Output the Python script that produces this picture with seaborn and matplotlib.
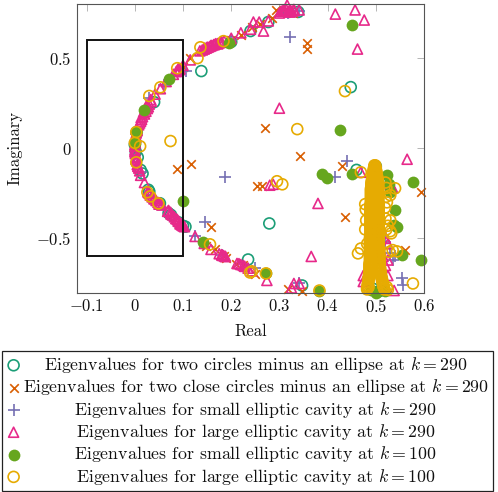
import matplotlib
matplotlib.use("Agg")
import matplotlib.pyplot as plt
import seaborn as sns
from matplotlib.patches import Rectangle

teal_x = [0.0, 0.004, 0.006, 0.012, 0.04, 0.03, 0.05, 0.07, 0.09, 0.1, 0.138, 0.2, 0.24, 0.277, 0.339, 0.448, 0.279,
          0.002, 0.016, 0.028, 0.052, 0.075, 0.105, 0.235, 0.347, 0.5, 0.495, 0.505, 0.46]
teal_y = [0.02, 0.09, -0.05, -0.12, 0.256, -0.24, -0.31, -0.36, -0.41, -0.43, 0.428, 0.59, 0.65, 0.70, 0.756, 0.339, -0.417,
          -0.02, -0.14, -0.23, -0.305, -0.37, -0.435, -0.617, -0.761, -0.1, -0.78, -0.795, -0.12]

orange_x = [0.1, 0.115, 0.088, 0.117, 0.159, 0.19, 0.21, 0.225, 0.185, 0.2, 0.254, 0.264, 0.243, 0.27, 0.293, 0.306, 0.329,
            0.358, 0.358, 0.343, 0.43, 0.436, 0.594, 0.561, 0.318, 0.347, 0.26, 0.25, 0.148, 0.167, 0.22, 0.285, 0.5, 0.51]
orange_y = [0.45, 0.5, -0.117, -0.089, -0.439, -0.61, -0.64, -0.65, -0.595, 0.6, -0.211, -0.211, 0.67, 0.111, 0.767, 0.756, 0.75,
            0.583, 0.55, -0.044, -0.1, -0.383, -0.244, -0.567, -0.778, -0.789, 0.69, -0.7, -0.54, -0.56, 0.63, 0.72, -0.5, -0.62]

purple_x = [0.107, 0.003, 0.012, 0.188, 0.146, 0.125, 0.18, 0.25, 0.318, 0.341, 0.322, 0.441, 0.416, 0.536, 0.554, 0.557, 0.341,
            0.03, 0.06, 0.094, 0.2, 0.515, 0.52, 0.53, 0.54, 0.505]
purple_y = [0.428, 0.08, -0.13, -0.161, -0.411, -0.489, -0.59, -0.665, 0.75, 0.76, 0.617, -0.072, -0.161, -0.622, -0.717, -0.761, -0.75,
            0.28, 0.35, -0.42, 0.6, -0.48, -0.52, -0.58, -0.6, -0.45]

pink_x = [0.0, 0.002, 0.005, 0.008, 0.013, 0.018, 0.022, 0.025, 0.033, 0.042, 0.053, 0.065, 0.08, 0.09, 0.1, 0.115,
          0.135, 0.145, 0.15, 0.158, 0.165, 0.172, 0.178, 0.185, 0.2, 0.22, 0.24, 0.246, 0.258, 0.267, 0.277, 0.3, 0.308, 0.316, 0.322, 0.33, 0.341,
          0.416, 0.457, 0.476, 0.462, 0.30,
          0.0, 0.002, 0.006, 0.012, 0.02, 0.027, 0.03, 0.04, 0.05, 0.068, 0.075, 0.085, 0.09, 0.094, 0.097, 0.1,
          0.125, 0.144, 0.158, 0.175, 0.181, 0.187, 0.212, 0.225, 0.235, 0.243, 0.274, 0.33, 0.341, 0.325,
          0.469, 0.565, 0.38, 0.287, 0.28, 0.366, 0.538, 0.474, 0.474, 0.525,
          0.51, 0.515, 0.52, 0.525, 0.51, 0.515, 0.52, 0.53, 0.535, 0.525]
pink_y = [0.02, 0.06, 0.1, 0.13, 0.17, 0.2, 0.22, 0.24, 0.27, 0.3, 0.33, 0.37, 0.41, 0.44, 0.46, 0.49,
          0.54, 0.555, 0.56, 0.57, 0.575, 0.58, 0.59, 0.595, 0.61, 0.64, 0.66, 0.70, 0.70, 0.65, 0.706, 0.75, 0.767, 0.794, 0.767, 0.77, 0.767,
          0.744, 0.767, 0.711, 0.55, 0.222,
          -0.02, -0.06, -0.1, -0.15, -0.19, -0.24, -0.25, -0.28, -0.31, -0.35, -0.365, -0.39, -0.405, -0.42, -0.425, -0.43,
          -0.489, -0.528, -0.561, -0.585, -0.594, -0.6, -0.639, -0.65, -0.665, -0.68, -0.733, -0.75, -0.75, -0.775,
          -0.133, -0.061, -0.306, -0.2, -0.205, -0.6, -0.789, -0.706, -0.739, -0.706,
          -0.44, -0.47, -0.5, -0.53, -0.56, -0.6, -0.65, -0.2, -0.22, -0.62]

# dense runs of the large-cavity eigenvalues along the arc
pink_dense_x = [0.0, 0.001, 0.001, 0.002, 0.003, 0.004, 0.01, 0.012, 0.014, 0.016, 0.02, 0.023, 0.026, 0.028, 0.03, 0.034,
                0.086, 0.088, 0.092, 0.094, 0.14, 0.144, 0.148, 0.152, 0.156, 0.16, 0.164, 0.168, 0.172, 0.176, 0.18,
                0.304, 0.31, 0.314, 0.318, 0.322, 0.326, 0.33,
                0.0, 0.001, 0.003, 0.004, 0.005, 0.008, 0.01, 0.028, 0.032, 0.036, 0.04, 0.044, 0.048, 0.052, 0.056,
                0.07, 0.074, 0.078, 0.082, 0.088, 0.091, 0.094, 0.097, 0.099, 0.101, 0.103, 0.18, 0.184, 0.188, 0.216, 0.22, 0.228]
pink_dense_y = [0.01, 0.03, 0.05, 0.07, 0.085, 0.095, 0.14, 0.15, 0.16, 0.175, 0.19, 0.205, 0.22, 0.23, 0.245, 0.26,
                0.425, 0.43, 0.435, 0.44, 0.545, 0.55, 0.555, 0.56, 0.565, 0.57, 0.575, 0.58, 0.58, 0.585, 0.59,
                0.76, 0.765, 0.77, 0.76, 0.755, 0.76, 0.765,
                -0.01, -0.03, -0.05, -0.07, -0.09, -0.11, -0.125, -0.245, -0.26, -0.27, -0.28, -0.29, -0.3, -0.305, -0.315,
                -0.345, -0.355, -0.37, -0.38, -0.395, -0.405, -0.415, -0.42, -0.425, -0.43, -0.435, -0.59, -0.595, -0.6, -0.64, -0.645, -0.655]

green_x = [0.0, 0.003, 0.018, 0.07, 0.196, 0.451, 0.426, 0.099, 0.142, 0.272, 0.383, 0.389, 0.399, 0.451, 0.577, 0.594, 0.554,
           0.544, 0.538, 0.54, 0.53, 0.527, 0.523, 0.49, 0.5, 0.51, 0.52, 0.5]
green_y = [0.03, 0.09, 0.21, 0.383, 0.583, 0.683, 0.10, -0.294, -0.522, -0.694, -0.789, -0.144, -0.167, -0.144, -0.189, -0.622, -0.594,
           -0.439, -0.425, -0.344, -0.24, -0.2, -0.15, -0.785, -0.795, -0.785, -0.79, -0.8]

yellow_x = [0.0, 0.003, 0.011, 0.074, 0.03, 0.053, 0.088, 0.13, 0.136, 0.184, 0.003, 0.026, 0.032, 0.049, 0.156, 0.239, 0.243, 0.272,
            0.383, 0.295, 0.306, 0.337, 0.436, 0.463, 0.469, 0.469, 0.54, 0.53, 0.53, 0.532, 0.544, 0.53, 0.577, 0.535, 0.528, 0.525, 0.523,
            0.52, 0.522, 0.521, 0.519, 0.52, 0.522, 0.478, 0.479, 0.48, 0.478, 0.482, 0.485, 0.525, 0.523]
yellow_y = [0.03, 0.09, 0.011, 0.04, 0.29, 0.338, 0.444, 0.5, 0.56, 0.594, -0.078, -0.244, -0.267, -0.306, -0.533, -0.689, -0.683, -0.694,
            -0.789, -0.183, -0.2, 0.106, 0.317, -0.583, -0.556, -0.133, -0.222, -0.26, -0.4, -0.472, -0.572, -0.46, -0.75, -0.565, -0.575, -0.43, -0.3,
            -0.19, -0.22, -0.27, -0.33, -0.39, -0.45, -0.31, -0.34, -0.4, -0.45, -0.53, -0.77, -0.785, -0.77]

# the tall cluster of k=100 eigenvalues near Re = 0.5
cluster_y = [-0.095, -0.103, -0.111, -0.119, -0.127, -0.135, -0.143, -0.151, -0.159, -0.167, -0.175, -0.183, -0.191, -0.199, -0.207,
             -0.215, -0.223, -0.231, -0.239, -0.247, -0.255, -0.263, -0.271, -0.279, -0.287, -0.295, -0.303, -0.311, -0.319, -0.327,
             -0.335, -0.343, -0.351, -0.359, -0.367, -0.375, -0.383, -0.391, -0.399, -0.407, -0.415, -0.423, -0.431, -0.439, -0.447,
             -0.455, -0.463, -0.471, -0.479, -0.487, -0.495, -0.503, -0.511, -0.519, -0.527, -0.535, -0.543, -0.551, -0.559, -0.567,
             -0.575, -0.583, -0.591, -0.599, -0.607, -0.615, -0.623, -0.631, -0.639, -0.647, -0.655, -0.663, -0.671, -0.679, -0.687,
             -0.695, -0.703, -0.711, -0.719, -0.727, -0.735, -0.743, -0.751, -0.759, -0.767, -0.775, -0.783]
cluster_left_x = [0.497, 0.497, 0.496, 0.496, 0.495, 0.495, 0.494, 0.494, 0.493, 0.493, 0.492, 0.492, 0.491, 0.491, 0.491,
                  0.491, 0.49, 0.49, 0.49, 0.49, 0.49, 0.49, 0.49, 0.49, 0.49, 0.49, 0.49, 0.489, 0.489, 0.489,
                  0.489, 0.489, 0.489, 0.489, 0.489, 0.489, 0.489, 0.489, 0.489, 0.489, 0.489, 0.489, 0.489, 0.489, 0.489,
                  0.489, 0.489, 0.489, 0.489, 0.489, 0.488, 0.488, 0.488, 0.488, 0.488, 0.488, 0.488, 0.488, 0.488, 0.488,
                  0.488, 0.488, 0.488, 0.488, 0.488, 0.488, 0.488, 0.488, 0.487, 0.487, 0.487, 0.487, 0.487, 0.487, 0.487,
                  0.486, 0.486, 0.486, 0.485, 0.485, 0.485, 0.484, 0.484, 0.483, 0.483, 0.482, 0.482]
cluster_right_x = [0.499, 0.499, 0.5, 0.5, 0.501, 0.501, 0.502, 0.502, 0.503, 0.503, 0.504, 0.504, 0.505, 0.505, 0.505,
                   0.505, 0.505, 0.505, 0.505, 0.505, 0.505, 0.505, 0.505, 0.505, 0.505, 0.505, 0.505, 0.506, 0.506, 0.506,
                   0.506, 0.506, 0.506, 0.506, 0.506, 0.506, 0.506, 0.506, 0.506, 0.506, 0.506, 0.506, 0.506, 0.506, 0.506,
                   0.506, 0.506, 0.506, 0.506, 0.506, 0.506, 0.506, 0.506, 0.506, 0.506, 0.506, 0.506, 0.506, 0.507, 0.507,
                   0.507, 0.507, 0.507, 0.507, 0.507, 0.507, 0.508, 0.508, 0.508, 0.508, 0.508, 0.509, 0.509, 0.509, 0.51,
                   0.51, 0.511, 0.511, 0.512, 0.513, 0.513, 0.514, 0.515, 0.515, 0.516, 0.517, 0.518]

labels = [r"Eigenvalues for two circles minus an ellipse at $k=290$",
          r"Eigenvalues for two close circles minus an ellipse at $k=290$",
          r"Eigenvalues for small elliptic cavity at $k=290$",
          r"Eigenvalues for large elliptic cavity at $k=290$",
          r"Eigenvalues for small elliptic cavity at $k=100$",
          r"Eigenvalues for large elliptic cavity at $k=100$"]
x_ticks = [-0.1, 0, 0.1, 0.2, 0.3, 0.4, 0.5, 0.6]
x_ticklabels = ["$-0.1$", "$0$", "$0.1$", "$0.2$", "$0.3$", "$0.4$", "$0.5$", "$0.6$"]
y_ticks = [-0.5, 0, 0.5]
y_ticklabels = ["$-0.5$", "$0$", "$0.5$"]

sns.set_theme(style="white")
plt.rcParams.update({"font.family": ["cmr10", "DejaVu Serif"], "mathtext.fontset": "cm",
                     "axes.formatter.use_mathtext": True, "axes.unicode_minus": False})

fig = plt.figure(figsize=(4.98, 4.92), dpi=100)
ax = fig.add_axes([77 / 498, 1 - 292.5 / 492, 347 / 498, 288.5 / 492])

C = ["#1b9e77", "#d95f02", "#7570b3", "#e7298a", "#66a61e", "#e6ab02"]
sns.scatterplot(x=teal_x, y=teal_y, ax=ax, marker="o", s=62, facecolors="none", edgecolor=C[0], linewidth=1.2, label=labels[0], clip_on=False)
sns.scatterplot(x=orange_x, y=orange_y, ax=ax, marker="x", s=38, color=C[1], linewidth=1.2, label=labels[1], clip_on=False)
sns.scatterplot(x=purple_x, y=purple_y, ax=ax, marker="+", s=75, color=C[2], linewidth=1.2, label=labels[2], clip_on=False)
sns.scatterplot(x=pink_x + pink_dense_x, y=pink_y + pink_dense_y, ax=ax, marker="^", s=52, facecolors="none", edgecolor=C[3], linewidth=1.2, label=labels[3], clip_on=False)
sns.scatterplot(x=green_x, y=green_y, ax=ax, marker="o", s=72, color=C[4], linewidth=0, label=labels[4], clip_on=False)
sns.scatterplot(x=yellow_x + cluster_left_x + cluster_right_x, y=yellow_y + cluster_y + cluster_y, ax=ax, marker="o", s=62,
                facecolors="none", edgecolor=C[5], linewidth=1.2, label=labels[5], clip_on=False)

ax.add_patch(Rectangle((-0.1, -0.6), 0.2, 1.2, fill=False, edgecolor="#111111", linewidth=1.4, zorder=1.5))

ax.set_xlim(-0.12, 0.6)
ax.set_ylim(-0.8, 0.8)
ax.set_xticks(x_ticks, x_ticklabels, fontsize=12)
ax.set_yticks(y_ticks, y_ticklabels, fontsize=12)
ax.tick_params(direction="in", top=True, right=True, length=5, width=0.6, color="#aaaaaa", pad=4, labelcolor="#111111")
for s in ax.spines.values():
    s.set_color("#555555")
    s.set_linewidth(0.8)
ax.set_xlabel("Real", fontsize=12, color="#111111", labelpad=6)
ax.set_ylabel("Imaginary", fontsize=12, color="#111111", labelpad=10)

leg = ax.legend(loc="upper left", bbox_to_anchor=(2 / 498, 1 - 350.5 / 492), bbox_transform=fig.transFigure,
                fontsize=12.85, frameon=True, fancybox=False, edgecolor="#222222", framealpha=1, borderaxespad=0,
                borderpad=0.25, labelspacing=0.13, handletextpad=0.1, handlelength=0.8, scatterpoints=1)
leg.get_frame().set_linewidth(0.9)
for t in leg.get_texts():
    t.set_color("#111111")

# centre the legend text in its column, as in the reference
renderer = fig.canvas.get_renderer()
widths = [t.get_window_extent(renderer).width * 72 / fig.dpi for t in leg.get_texts()]
rows = leg._legend_handle_box.get_children()[0].get_children()
for row, w in zip(rows, widths):
    row.sep = row.sep + (max(widths) - w) / 2

fig.savefig("out.png", dpi=100, facecolor="white")
